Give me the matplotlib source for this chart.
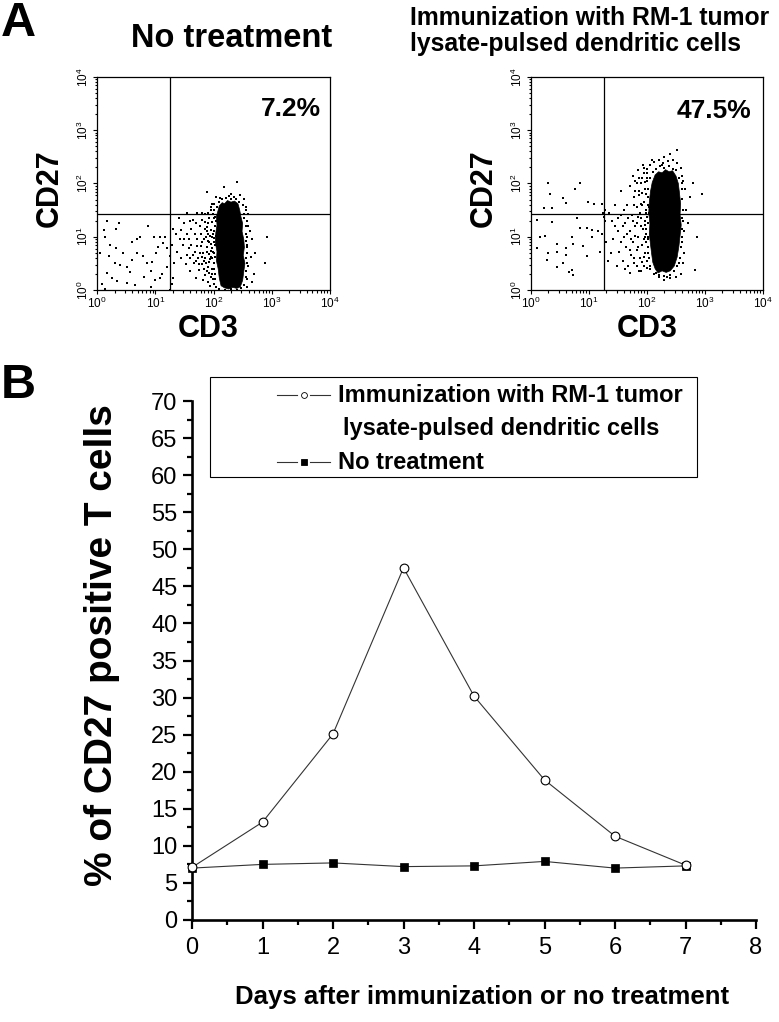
import numpy as np
import matplotlib
matplotlib.use("Agg")
import matplotlib.pyplot as plt
from matplotlib.lines import Line2D
from matplotlib.patches import Rectangle
from matplotlib.ticker import FixedLocator, NullFormatter

plt.rcParams['font.family'] = ['Liberation Sans', 'DejaVu Sans']
plt.rcParams['mathtext.fontset'] = 'custom'
plt.rcParams['mathtext.rm'] = 'Liberation Sans'
plt.rcParams['mathtext.it'] = 'Liberation Sans'

# ---------------- Panel B data ----------------
days = [0, 1, 2, 3, 4, 5, 6, 7]
immunized_pct = [7.1, 13.2, 25.1, 47.5, 30.2, 18.9, 11.3, 7.4]
untreated_pct = [7.0, 7.5, 7.7, 7.2, 7.3, 7.9, 7.0, 7.3]
label_immunized_1 = "Immunization with RM-1 tumor"
label_immunized_2 = "lysate-pulsed dendritic cells"
label_untreated = "No treatment"

# ---------------- Panel A data (log10 fluorescence) ----------------
nt_title = "No treatment"
im_title = "Immunization with RM-1 tumor\nlysate-pulsed dendritic cells"
nt_percent = "7.2%"
im_percent = "47.5%"
gate_cd3_log = 1.25
gate_cd27_log = 1.42

# dense core outline, no-treatment
nt_core_lx = [2.10, 2.15, 2.19, 2.24, 2.30, 2.36, 2.42, 2.45, 2.47, 2.50, 2.49, 2.52, 2.53, 2.51, 2.54, 2.52,
              2.50, 2.46, 2.40, 2.33, 2.26, 2.19, 2.13, 2.10, 2.08, 2.05, 2.06, 2.03, 2.04, 2.06, 2.05, 2.08]
nt_core_ly = [1.58, 1.64, 1.62, 1.68, 1.65, 1.67, 1.62, 1.50, 1.38, 1.25, 1.10, 0.95, 0.80, 0.65, 0.50, 0.35,
              0.18, 0.06, 0.03, 0.05, 0.02, 0.04, 0.08, 0.22, 0.40, 0.55, 0.72, 0.90, 1.08, 1.22, 1.38, 1.50]
# surrounding events, no-treatment
nt_cloud = [(1.88,1.84),(2.18,1.93),(2.41,2.03),(2.05,1.75),(2.30,1.80),(2.12,1.72),(2.45,1.78),(2.52,1.70),
            (2.00,1.62),(1.95,1.55),(2.55,1.55),(2.60,1.43),(2.58,1.30),(2.62,1.10),(2.66,0.95),(2.58,0.80),
            (2.64,0.62),(2.60,0.45),(2.70,0.30),(2.66,0.15),(2.58,0.20),(2.91,1.00),(2.89,0.50),(2.72,0.70),
            (2.56,1.05),(2.60,1.20),(2.57,0.05),(1.30,1.15),(1.28,0.85),(1.35,1.05),(1.40,1.35),(1.42,0.95),
            (1.38,0.72),(1.45,0.60),(1.48,0.85),(1.50,1.25),(1.52,0.48),(1.55,1.45),(1.55,1.05),(1.58,0.95),
            (1.60,0.35),(1.60,0.60),(1.62,1.15),(1.62,0.85),(1.65,1.32),(1.66,0.50),(1.68,0.72),(1.68,1.05),
            (1.70,0.22),(1.72,1.45),(1.72,0.95),(1.74,0.60),(1.75,0.38),(1.76,1.20),(1.78,0.82),(1.78,1.05),
            (1.80,0.48),(1.80,1.32),(1.82,0.70),(1.82,0.18),(1.84,0.95),(1.85,1.15),(1.86,0.60),(1.86,1.42),
            (1.88,0.35),(1.88,0.80),(1.90,1.05),(1.90,1.25),(1.92,0.52),(1.92,0.68),(1.93,0.90),(1.95,0.25),
            (1.95,1.50),(1.96,1.12),(1.97,0.40),(1.98,0.78),(1.98,0.60),(2.00,0.98),(2.00,1.35),(2.01,0.12),
            (2.02,0.30),(2.02,0.85),(2.02,1.20),(1.30,0.22),(1.25,0.00),(1.28,0.12),(1.33,0.50),(1.94,0.08),
            (1.87,1.00),(1.91,0.44),(1.99,1.05),(1.96,0.86),(1.83,0.55),(1.89,1.18),(2.01,0.70),(1.97,1.28),
            (1.90,0.15),(1.85,0.28),(1.92,0.32),(1.94,0.58),(1.89,0.72),(1.95,0.74),(1.90,0.92),(1.94,1.02),
            (1.88,1.10),(1.93,1.35),(1.85,1.28),(1.80,0.90),(1.76,0.70),(1.72,0.82),(1.70,0.55),(1.75,0.48),
            (1.80,0.62),(1.65,0.65),(1.70,1.25),(1.60,1.30),(1.58,0.78),(1.55,0.65),(1.50,0.95),(1.45,1.12),
            (1.80,1.45),(1.90,1.45),(1.98,1.62),(1.83,0.40),(1.87,0.50),(1.99,0.20)]
nt_halo = [(2.00,1.50),(1.99,1.42),(2.02,1.38),(2.00,1.10),(2.01,0.90),(1.99,0.72),(2.00,0.50),(2.01,0.40),
           (2.03,0.20),(2.05,0.05),(2.06,1.55),(2.04,1.30),(1.97,1.00),(1.96,0.62),(1.98,0.30),(2.03,0.62),
           (2.04,1.02),(2.55,1.50),(2.50,1.60),(2.53,1.35),(2.56,1.20),(2.57,1.00),(2.58,0.85),(2.57,0.70),
           (2.58,0.50),(2.56,0.35),(2.55,0.25),(2.53,0.10),(2.56,0.60),(2.55,0.92),(2.52,1.42),(2.15,1.70),
           (2.22,1.72),(2.30,1.71),(2.38,1.70),(2.44,1.66),(2.10,1.65),(2.26,1.76),(2.35,1.75),(2.20,0.00),
           (2.30,0.01),(2.40,0.00),(2.10,0.02),(2.48,0.03)]
nt_sparse = [(0.17,1.29),(0.37,1.25),(0.12,1.13),(0.32,1.15),(0.88,1.20),(0.74,1.00),(0.14,1.00),(0.23,0.84),
             (0.33,0.78),(0.68,0.95),(0.97,1.00),(1.08,1.00),(1.17,1.00),(0.05,0.69),(0.20,0.63),(0.31,0.50),
             (0.40,0.47),(0.51,0.44),(0.60,0.56),(0.68,0.69),(0.79,0.63),(0.85,0.50),(0.94,0.53),(1.02,0.69),
             (1.05,0.81),(1.14,0.88),(1.20,0.78),(0.17,0.31),(0.26,0.22),(0.34,0.16),(0.51,0.125),(0.66,0.10),
             (0.80,0.25),(0.92,0.35),(1.00,0.19),(1.08,0.22),(1.20,0.44),(0.09,0.12),(0.14,0.02),(0.93,0.06),
             (1.25,0.63),(0.57,0.34),(0.45,0.70),(0.60,0.90),(1.12,0.30)]

# dense core outline, immunized
im_core_lx = [2.14, 2.20, 2.26, 2.32, 2.38, 2.44, 2.50, 2.54, 2.56, 2.58, 2.57, 2.59, 2.57, 2.55, 2.52,
              2.47, 2.40, 2.33, 2.26, 2.19, 2.14, 2.10, 2.08, 2.06, 2.04, 2.05, 2.03, 2.04, 2.06, 2.09]
im_core_ly = [2.16, 2.22, 2.20, 2.26, 2.22, 2.24, 2.14, 2.00, 1.82, 1.62, 1.42, 1.22, 1.02, 0.82, 0.62,
              0.45, 0.36, 0.33, 0.36, 0.32, 0.40, 0.52, 0.68, 0.86, 1.05, 1.25, 1.45, 1.65, 1.85, 2.02]
im_cloud = [(2.51,2.63),(2.40,2.55),(2.30,2.50),(2.20,2.45),(2.12,2.40),(2.45,2.45),(2.36,2.42),(2.05,2.35),
            (2.27,2.38),(2.52,2.38),(2.00,2.28),(2.58,2.30),(1.95,2.20),(2.60,2.15),(1.92,2.10),(2.62,2.05),
            (2.80,2.00),(2.95,1.80),(2.74,1.74),(2.68,1.50),(2.86,1.00),(2.83,0.38),(2.63,0.69),(2.65,1.90),
            (2.62,1.30),(2.64,1.10),(2.60,0.90),(2.62,0.50),(2.58,0.30),(2.50,0.25),(2.40,0.22),(2.30,0.18),
            (2.20,0.25),(2.12,0.30),(2.05,0.40),(2.70,1.25),(1.35,1.45),(1.40,1.30),(1.42,0.95),(1.45,1.60),
            (1.50,1.10),(1.52,0.72),(1.55,1.85),(1.56,1.40),(1.58,0.55),(1.60,1.00),(1.62,1.25),(1.64,0.80),
            (1.66,1.60),(1.68,0.45),(1.70,1.95),(1.70,1.10),(1.72,0.65),(1.74,1.40),(1.75,0.90),(1.77,1.75),
            (1.78,0.50),(1.80,1.20),(1.80,2.05),(1.82,0.75),(1.83,1.55),(1.85,1.00),(1.86,0.35),(1.87,1.85),
            (1.88,0.60),(1.90,1.35),(1.90,2.00),(1.92,0.85),(1.93,1.15),(1.94,1.65),(1.95,0.45),(1.96,1.90),
            (1.97,0.70),(1.98,1.45),(1.99,1.05),(2.00,2.10),(2.00,0.55),(2.01,1.25),(2.02,0.80),(2.02,1.75),
            (2.03,1.55),(1.30,0.90),(1.33,0.55),(1.38,0.70),(1.48,0.45),(1.62,0.40),(1.70,0.32),(1.45,1.20),
            (1.60,1.50),(1.75,2.15),(1.85,2.25),(1.95,2.30),(1.89,1.62),(1.97,1.22),(1.84,1.38),(2.01,0.95),
            (1.91,0.52),(1.79,1.02),(1.96,2.02),(1.87,1.78),(1.88,1.45),(1.92,1.60),(1.90,1.20),(1.94,0.95),
            (1.85,0.80),(1.83,1.25),(1.78,1.60),(1.80,1.85),(1.92,1.82),(1.86,2.10),(1.75,1.30),(1.72,0.95),
            (1.68,1.35),(1.65,1.05),(1.58,1.20),(1.55,0.90),(1.50,1.35),(1.82,0.45),(1.90,0.35),(1.94,0.62),
            (1.78,0.60),(1.70,0.75),(2.00,2.20),(1.93,2.35),(2.08,2.45),(1.83,2.00)]
im_halo = [(2.00,2.05),(2.02,1.90),(1.99,1.80),(2.01,1.60),(1.98,1.50),(2.00,1.38),(1.99,1.15),(2.01,1.00),
           (1.98,0.90),(2.02,0.70),(2.04,0.60),(2.00,0.42),(2.06,0.45),(2.03,1.45),(2.05,2.10),(1.97,1.30),
           (1.96,1.00),(2.60,1.90),(2.61,1.70),(2.62,1.50),(2.60,1.35),(2.61,1.15),(2.60,1.00),(2.58,0.80),
           (2.57,0.60),(2.52,0.45),(2.55,0.50),(2.60,2.00),(2.56,2.10),(2.15,2.28),(2.22,2.32),(2.30,2.30),
           (2.38,2.32),(2.45,2.28),(2.50,2.25),(2.10,2.22),(2.26,2.35),(2.20,0.28),(2.30,0.26),(2.40,0.28),
           (2.15,0.32),(2.47,0.36),(2.35,0.24)]
im_sparse = [(0.30,2.01),(0.84,2.00),(0.33,1.80),(0.56,1.72),(0.76,1.89),(0.22,1.54),(0.36,1.54),(0.61,1.63),
             (0.98,1.66),(1.08,1.61),(1.22,1.61),(0.10,1.31),(0.36,1.28),(0.79,1.35),(0.84,1.16),(0.96,1.16),
             (1.05,1.13),(1.16,1.10),(0.16,1.00),(0.24,1.01),(0.44,0.87),(0.70,1.00),(0.73,0.87),(1.05,1.00),
             (0.10,0.78),(0.30,0.69),(0.44,0.72),(0.61,0.78),(0.96,0.63),(1.19,0.72),(0.27,0.56),(0.56,0.50),
             (0.70,0.38),(0.73,0.28),(0.44,0.44),(0.61,0.66),(1.22,1.06),(1.25,1.38),(1.28,1.50),(1.24,1.45),
             (1.27,1.30),(0.66,0.34),(0.90,0.82)]

# ---------------- Figure ----------------
W, H = 779, 1022
fig = plt.figure(figsize=(W / 100, H / 100), dpi=100)


def fx(x):
    return x / W


def fy(y):
    return 1 - y / H


def flow_axes(x0, x1, y0, y1):
    ax = fig.add_axes([fx(x0), fy(y1), fx(x1) - fx(x0), fy(y0) - fy(y1)])
    ax.set_xscale('log')
    ax.set_yscale('log')
    ax.set_xlim(1, 1e4)
    ax.set_ylim(1, 1e4)
    decades = [1, 10, 100, 1000, 10000]
    ax.xaxis.set_major_locator(FixedLocator(decades))
    ax.yaxis.set_major_locator(FixedLocator(decades))
    minors = [m * d for d in [1, 10, 100, 1000] for m in range(2, 10)]
    ax.xaxis.set_minor_locator(FixedLocator(minors))
    ax.yaxis.set_minor_locator(FixedLocator(minors))
    ax.xaxis.set_minor_formatter(NullFormatter())
    ax.yaxis.set_minor_formatter(NullFormatter())
    labs = [r'$10^{%d}$' % i for i in range(5)]
    ax.set_xticklabels(labs, fontsize=8.5)
    ax.set_yticklabels(labs, fontsize=8.5, rotation=90, va='center')
    ax.tick_params(which='major', direction='out', length=3, width=0.8, pad=1.5)
    ax.tick_params(which='minor', direction='out', length=1.8, width=0.8)
    for s in ax.spines.values():
        s.set_linewidth(0.9)
    return ax


def draw_flow(ax, core_lx, core_ly, cloud, halo, sparse):
    ax.fill(10 ** np.array(core_lx), 10 ** np.array(core_ly), color='black', lw=0.5, zorder=2)
    for pts in (cloud, halo, sparse):
        p = np.array(pts)
        ax.plot(10 ** p[:, 0], 10 ** p[:, 1], 's', color='black', ms=1.7, mew=0, zorder=2)
    ax.axvline(10 ** gate_cd3_log, color='black', lw=0.9, zorder=3)
    ax.axhline(10 ** gate_cd27_log, color='black', lw=0.9, zorder=3)


ax1 = flow_axes(97, 330, 77, 290)
draw_flow(ax1, nt_core_lx, nt_core_ly, nt_cloud, nt_halo, nt_sparse)
ax2 = flow_axes(531, 763, 77, 290)
draw_flow(ax2, im_core_lx, im_core_ly, im_cloud, im_halo, im_sparse)

# panel A texts
fig.text(fx(1), fy(23), "A", fontsize=35, fontweight='bold', ha='left', va='center')
fig.text(fx(232), fy(38), nt_title, fontsize=23.5, fontweight='bold', ha='center', va='center')
fig.text(fx(410), fy(31), im_title, fontsize=17.8, fontweight='bold', ha='left', va='center',
         linespacing=1.15)
fig.text(fx(291), fy(109), nt_percent, fontsize=19, fontweight='bold', ha='center', va='center')
fig.text(fx(714), fy(111), im_percent, fontsize=19, fontweight='bold', ha='center', va='center')
fig.text(fx(50), fy(188), "CD27", fontsize=22, fontweight='bold', rotation=90, ha='center', va='center')
fig.text(fx(484), fy(188), "CD27", fontsize=22, fontweight='bold', rotation=90, ha='center', va='center')
fig.text(fx(208), fy(329), "CD3", fontsize=22, fontweight='bold', ha='center', va='center')
fig.text(fx(647), fy(329), "CD3", fontsize=22, fontweight='bold', ha='center', va='center')

# ---------------- Panel B ----------------
axB = fig.add_axes([fx(192), fy(920), fx(756) - fx(192), fy(401) - fy(920)])
axB.plot(days, immunized_pct, '-', color='#333333', lw=0.8, marker='o', ms=6.3,
         mfc='white', mec='black', mew=0.8, zorder=3, clip_on=False)
axB.plot(days, untreated_pct, '-', color='#333333', lw=0.8, marker='s', ms=5.8,
         mfc='black', mec='black', mew=0.5, zorder=2, clip_on=False)
axB.set_xlim(0, 8)
axB.set_ylim(0, 70)
axB.set_xticks(range(0, 9))
axB.set_xticks(np.arange(0.5, 8, 1.0), minor=True)
axB.set_yticks(range(0, 71, 5))
axB.set_yticks(np.arange(2.5, 70, 5.0), minor=True)
axB.spines['top'].set_visible(False)
axB.spines['right'].set_visible(False)
axB.spines['left'].set_linewidth(1.9)
axB.spines['bottom'].set_linewidth(1.9)
axB.tick_params(which='major', direction='out', length=6.5, width=1.6, labelsize=17)
axB.tick_params(which='minor', direction='out', length=3.8, width=1.6)
axB.tick_params(axis='x', which='major', pad=6)
axB.tick_params(axis='y', which='major', pad=4)

fig.text(fx(1), fy(385), "B", fontsize=35, fontweight='bold', ha='left', va='center')
fig.text(fx(102), fy(645), "% of CD27 positive T cells", fontsize=28, fontweight='bold',
         rotation=90, ha='center', va='center')
fig.text(fx(482), fy(997), "Days after immunization or no treatment", fontsize=18.5,
         fontweight='bold', ha='center', va='center')

# legend (drawn manually to reproduce the Origin layout)
fig.patches.append(Rectangle((fx(210), fy(477)), fx(697) - fx(210), fy(377) - fy(477),
                             transform=fig.transFigure, fill=True, facecolor='white',
                             edgecolor='black', lw=0.8, zorder=5))
for yrow, mk, mfc, lab in [(395, 'o', 'white', label_immunized_1), (462, 's', 'black', label_untreated)]:
    fig.add_artist(Line2D([fx(277), fx(297)], [fy(yrow), fy(yrow)], color='#333333', lw=0.8,
                          transform=fig.transFigure, zorder=6))
    fig.add_artist(Line2D([fx(310), fx(330)], [fy(yrow), fy(yrow)], color='#333333', lw=0.8,
                          transform=fig.transFigure, zorder=6))
    fig.add_artist(Line2D([fx(303.5)], [fy(yrow)], marker=mk, ms=4.2, mfc=mfc, mec='black',
                          mew=0.6, transform=fig.transFigure, zorder=6))
    fig.text(fx(338), fy(yrow), lab, fontsize=17, fontweight='bold', ha='left', va='center', zorder=7)
fig.text(fx(343), fy(428), label_immunized_2, fontsize=17, fontweight='bold', ha='left',
         va='center', zorder=7)

fig.savefig("out.png", dpi=100)
